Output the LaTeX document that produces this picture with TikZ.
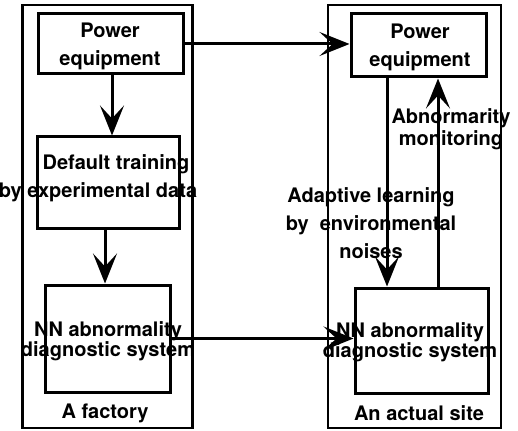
\documentclass[tikz,border=0pt]{standalone}
\usepackage{fontspec}
\setmainfont{TeX Gyre Heros}
\usetikzlibrary{arrows.meta}
\begin{document}
\begin{tikzpicture}[x=1pt,y=-1pt,
  outer/.style={draw, line width=2.5pt, inner sep=0pt},
  box/.style={draw, line width=3pt, inner sep=0pt},
  lbl/.style={font=\bfseries\fontsize{20}{28}\selectfont, align=center, inner sep=0pt},
  tight/.style={font=\bfseries\fontsize{20}{20}\selectfont, align=center, inner sep=0pt},
  conn/.style={line width=3pt, -{Stealth[length=30pt,width=24pt,inset=13pt]}}]
\useasboundingbox (0,0) rectangle (518,430);
% outer frames
\node[outer, minimum width=170pt, minimum height=423pt] (outerL) at (107.5,216.5) {};
\node[outer, minimum width=173pt, minimum height=423pt] (outerR) at (414.5,216.5) {};
% boxes
\node[box, minimum width=145pt, minimum height=60pt] (peL) at (110.5,44) {};
\node[box, minimum width=142pt, minimum height=91pt] (dtL) at (108,182.5) {};
\node[box, minimum width=125pt, minimum height=107pt] (nnL) at (107.5,338.5) {};
\node[box, minimum width=135pt, minimum height=63pt] (peR) at (418.5,45.5) {};
\node[box, minimum width=133pt, minimum height=105pt] (nnR) at (421.5,340.5) {};
% texts
\node[lbl] (tPeL) at (110,46) {Power\\equipment};
\node[lbl] (tDtL1) at (116,164) {Default training};
\node[lbl] (tDtL2) at (98,192) {by experimental data};
\node[tight] (tNnL) at (108,341) {NN abnormality\\diagnostic system};
\node[lbl] (tPeR) at (420,47) {Power\\equipment};
\node[tight] (tNnR) at (410,342) {NN abnormality\\diagnostic system};
\node[lbl, font=\bfseries\fontsize{20}{22}\selectfont] (tMon) at (451,129) {Abnormarity\\monitoring};
\node[lbl] (tAda) at (371,223) {Adaptive learning\\by \ environmental\\noises};
\node[lbl] (tFac) at (105,413) {A factory};
\node[lbl] (tSite) at (419,413) {An actual site};
% connectors
\coordinate (xa) at (112,0);
\coordinate (xb) at (105,0);
\coordinate (xd) at (387,0);
\coordinate (xu) at (438,0);
\draw[conn] (peL.south -| xa) -- (dtL.north -| xa);
\draw[conn] (dtL.south -| xb) -- (nnL.north -| xb);
\draw[conn] (peL.east) -- (peL.east -| peR.west);
\draw[conn] (nnL.east) -- (nnL.east -| nnR.west);
\draw[conn] (peR.south -| xd) -- (nnR.north -| xd);
\draw[conn] (nnR.north -| xu) -- (peR.south -| xu);
\end{tikzpicture}
\end{document}
